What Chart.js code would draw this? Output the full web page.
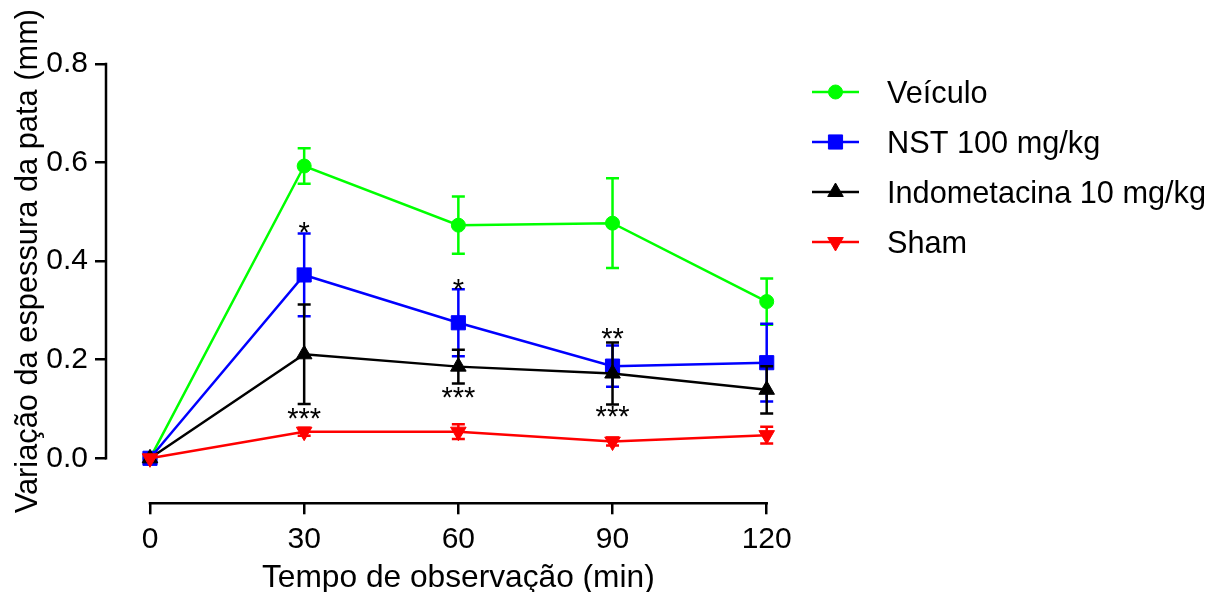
<!DOCTYPE html>
<html>
<head>
<meta charset="utf-8">
<script src="https://cdn.jsdelivr.net/npm/chart.js@4.4.1/dist/chart.umd.min.js"></script>
<style>
  html, body { margin: 0; padding: 0; background: #ffffff; }
  #wrap { width: 1219px; height: 592px; position: relative; }
</style>
</head>
<body>
<div id="wrap"><canvas id="c" width="1219" height="592"></canvas></div>
<script>
// ---- data ----
const times = [0, 30, 60, 90, 120];
const xTicks = [0, 30, 60, 90, 120];
const yTicks = [0, 0.2, 0.4, 0.6, 0.8];

const seriesNames = ['Veículo', 'NST 100 mg/kg', 'Indometacina 10 mg/kg', 'Sham'];
const veiculo    = [0, 0.593, 0.473, 0.477, 0.318];
const veiculoErr = [0, 0.036, 0.058, 0.091, 0.047];
const nst        = [0, 0.372, 0.275, 0.187, 0.194];
const nstErr     = [0, 0.084, 0.068, 0.042, 0.079];
const indo       = [0, 0.211, 0.186, 0.172, 0.139];
const indoErr    = [0, 0.101, 0.034, 0.063, 0.048];
const sham       = [0, 0.054, 0.054, 0.034, 0.047];
const shamErr    = [0, 0.008, 0.015, 0.008, 0.017];

// significance marks (x, visual centre y-value, text)
const sigX    = [30, 30, 60, 60, 90, 90];
const sigY    = [0.473, 0.0945, 0.356, 0.137, 0.258, 0.098];
const sigText = ['*', '***', '*', '***', '**', '***'];

const xTitle = 'Tempo de observação (min)';
const yTitle = 'Variação da espessura da pata (mm)';

// ---- styling ----
const FONT = "'Liberation Sans', Arial, sans-serif";
const colors = ['#00ff00', '#0000ff', '#000000', '#ff0000'];
const styles = [
  { pointStyle: 'circle',   radius: 7,  rotation: 0 },
  { pointStyle: 'rect',     radius: 10, rotation: 0 },
  { pointStyle: 'triangle', radius: 9,  rotation: 0 },
  { pointStyle: 'triangle', radius: 9,  rotation: 180 }
];
const values = [veiculo, nst, indo, sham];
const errors = [veiculoErr, nstErr, indoErr, shamErr];

const toPts = arr => times.map((t, i) => ({ x: t, y: arr[i] }));

const datasets = values.map((v, k) => ({
  label: seriesNames[k],
  data: toPts(v),
  errors: errors[k],
  borderColor: colors[k],
  backgroundColor: colors[k],
  borderWidth: 2.5,
  pointStyle: styles[k].pointStyle,
  pointRadius: styles[k].radius,
  pointRotation: styles[k].rotation,
  pointBackgroundColor: colors[k],
  pointBorderColor: colors[k],
  pointBorderWidth: 1,
  pointHoverRadius: styles[k].radius,
  tension: 0,
  clip: false,
  order: 4 - k
}));

function drawMarker(ctx, st, color, x, y) {
  ctx.save();
  ctx.fillStyle = color;
  ctx.strokeStyle = color;
  ctx.lineWidth = 1;
  if (Chart.helpers && Chart.helpers.drawPoint) {
    Chart.helpers.drawPoint(ctx, { pointStyle: st.pointStyle, radius: st.radius, rotation: st.rotation, borderWidth: 1 }, x, y);
  } else {
    ctx.beginPath();
    ctx.arc(x, y, st.radius, 0, Math.PI * 2);
    ctx.fill();
  }
  ctx.restore();
}

const errorBarPlugin = {
  id: 'errorBars',
  beforeDatasetDraw(chart, args) {
    const ds = chart.data.datasets[args.index];
    const xs = chart.scales.x, ys = chart.scales.y;
    const ctx = chart.ctx;
    ctx.save();
    ctx.strokeStyle = ds.borderColor;
    ctx.lineWidth = 2.5;
    const cap = 6.5;
    ds.data.forEach((p, i) => {
      const e = ds.errors[i];
      if (!e) return;
      const px = xs.getPixelForValue(p.x);
      const top = ys.getPixelForValue(p.y + e);
      const bot = ys.getPixelForValue(p.y - e);
      ctx.beginPath();
      ctx.moveTo(px, top); ctx.lineTo(px, bot);
      ctx.moveTo(px - cap, top); ctx.lineTo(px + cap, top);
      ctx.moveTo(px - cap, bot); ctx.lineTo(px + cap, bot);
      ctx.stroke();
    });
    ctx.restore();
  }
};

const prismPlugin = {
  id: 'prismAxes',
  afterDraw(chart) {
    const ctx = chart.ctx;
    const xs = chart.scales.x, ys = chart.scales.y;
    const x0 = xs.getPixelForValue(xTicks[0]);
    const x1 = xs.getPixelForValue(xTicks[xTicks.length - 1]);
    const y0 = ys.getPixelForValue(yTicks[0]);
    const y1 = ys.getPixelForValue(yTicks[yTicks.length - 1]);
    const axX = xs.getPixelForValue(xs.min);
    const axY = ys.getPixelForValue(ys.min);
    ctx.save();
    ctx.strokeStyle = '#000';
    ctx.lineWidth = 2.5;
    ctx.lineCap = 'square';
    ctx.beginPath();
    ctx.moveTo(axX, y0); ctx.lineTo(axX, y1);
    ctx.moveTo(x0, axY); ctx.lineTo(x1, axY);
    ctx.stroke();

    // axis titles
    ctx.fillStyle = '#000';
    ctx.textAlign = 'center';
    ctx.textBaseline = 'alphabetic';
    ctx.font = '31.7px ' + FONT;
    ctx.fillText(xTitle, (x0 + x1) / 2, 587);
    ctx.save();
    ctx.font = '30.8px ' + FONT;
    ctx.translate(37, (y0 + y1) / 2);
    ctx.rotate(-Math.PI / 2);
    ctx.fillText(yTitle, 0, 0);
    ctx.restore();

    // significance marks
    ctx.font = '29px ' + FONT;
    sigText.forEach((t, i) => {
      const px = xs.getPixelForValue(sigX[i]);
      const py = ys.getPixelForValue(sigY[i]);
      ctx.fillText(t, px, py + 16.5);
    });

    // legend
    ctx.font = '30.7px ' + FONT;
    ctx.textAlign = 'left';
    chart.data.datasets.forEach((ds, k) => {
      const ry = 92 + k * 50;
      ctx.strokeStyle = ds.borderColor;
      ctx.lineWidth = 2.5;
      ctx.lineCap = 'butt';
      ctx.beginPath();
      ctx.moveTo(812, ry); ctx.lineTo(859, ry);
      ctx.stroke();
      drawMarker(ctx, styles[k], ds.borderColor, 835.5, ry);
      ctx.fillStyle = '#000';
      ctx.fillText(ds.label, 887, ry + 11);
    });
    ctx.restore();
  }
};

new Chart(document.getElementById('c'), {
  type: 'line',
  data: { datasets },
  plugins: [errorBarPlugin, prismPlugin],
  options: {
    responsive: false,
    devicePixelRatio: 1,
    animation: false,
    events: [],
    layout: { padding: { top: 64, right: 452.3, bottom: 0, left: 0 } },
    plugins: { legend: { display: false }, tooltip: { enabled: false } },
    scales: {
      x: {
        type: 'linear',
        min: -8.56,
        max: 120,
        afterBuildTicks: s => { s.ticks = xTicks.map(v => ({ value: v })); },
        afterFit: s => { s.height = 88.7; },
        border: { display: false },
        grid: { drawOnChartArea: false, drawTicks: true, tickLength: 11, color: '#000', lineWidth: 2.5 },
        ticks: { color: '#000', font: { size: 30, family: FONT }, padding: 7, maxRotation: 0, autoSkip: false }
      },
      y: {
        type: 'linear',
        min: -0.0913,
        max: 0.8,
        afterBuildTicks: s => { s.ticks = yTicks.map(v => ({ value: v })); },
        afterFit: s => { s.width = 106; },
        border: { display: false },
        grid: { drawOnChartArea: false, drawTicks: true, tickLength: 11, color: '#000', lineWidth: 2.5 },
        ticks: { color: '#000', font: { size: 30, family: FONT }, padding: 7, callback: v => Number(v).toFixed(1) }
      }
    }
  }
});
</script>
</body>
</html>
